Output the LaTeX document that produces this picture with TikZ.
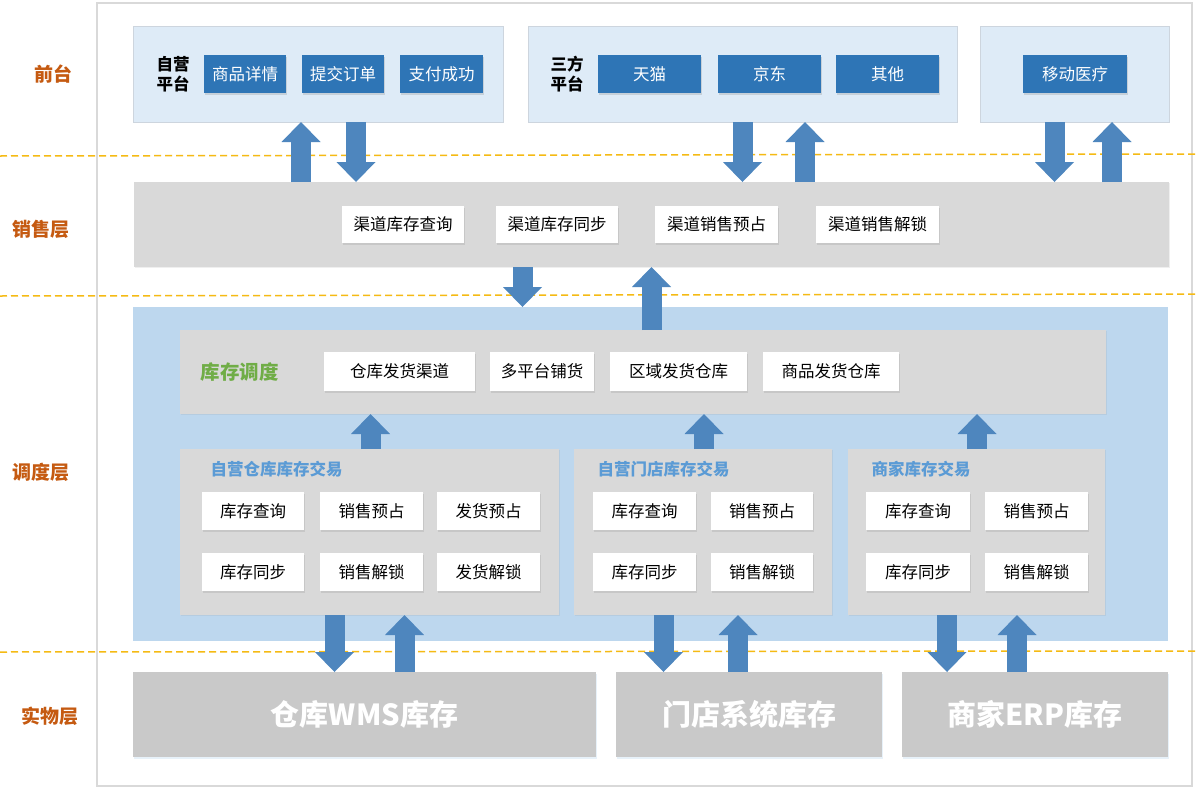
\documentclass[tikz,border=0pt]{standalone}
\usepackage{fontspec}
\setmainfont{Noto Sans CJK SC}
\usetikzlibrary{arrows.meta,shadows}
\definecolor{fblue}{HTML}{DEEBF7}
\definecolor{bordc}{HTML}{CDD5DE}
\definecolor{btnblue}{HTML}{2E75B6}
\definecolor{graybg}{HTML}{D9D9D9}
\definecolor{dispblue}{HTML}{BDD7EE}
\definecolor{physgray}{HTML}{C9C9C9}
\definecolor{arrowc}{HTML}{4E86BE}
\definecolor{lblorange}{HTML}{C55A11}
\definecolor{lblgreen}{HTML}{70AD47}
\definecolor{ttlblue}{HTML}{5B9BD5}
\definecolor{dashc}{HTML}{F5BA14}
\definecolor{framec}{HTML}{D9D9D9}
\newcommand{\bx}[7]{\node[inner sep=0pt, outer sep=0pt, minimum width={(#4-#2)*1pt}, minimum height={(#5-#3)*1pt}, #6] (#1) at ({(#2+#4)/2},{(#3+#5)/2}) {#7};}
\tikzset{
  cont/.style={fill=fblue, draw=bordc, line width=0.8pt, drop shadow={shadow xshift=1pt,shadow yshift=-1pt,opacity=.15,fill=gray}},
  btn/.style={fill=btnblue, text=white, font=\fontsize{16.5}{18}\selectfont, drop shadow={shadow xshift=1pt,shadow yshift=-1.5pt,opacity=.25,fill=gray}},
  wbox/.style={fill=white, text=black, font=\fontsize{16.5}{18}\selectfont, drop shadow={shadow xshift=1pt,shadow yshift=-1.5pt,opacity=.2,fill=gray}},
  grayp/.style={fill=graybg, drop shadow={shadow xshift=1pt,shadow yshift=-1pt,opacity=.12,fill=gray}},
  physbox/.style={fill=physgray, text=white, font=\fontsize{29}{32}\bfseries\selectfont, drop shadow={shadow xshift=0.5pt,shadow yshift=-2pt,opacity=.35,fill=dispblue}},
  lbl/.style={text=lblorange, font=\fontsize{19}{22}\bfseries\selectfont},
  plat/.style={text=black, align=center, font=\fontsize{16.5}{19.5}\bfseries\selectfont},
  ttl/.style={text=ttlblue, anchor=west, font=\fontsize{16.5}{18}\bfseries\selectfont},
  barr/.style={draw=arrowc, line width=20pt, -{Triangle[width=39pt,length=20pt,line width=0pt]}},
  dashline/.style={draw=dashc, line width=1.5pt, dash pattern=on 7pt off 4pt},
}
\begin{document}
\begin{tikzpicture}[x=1pt,y=-1pt]
\useasboundingbox (0,0) rectangle (1199,795);
\fill[white] (0,0) rectangle (1199,795);
% outer frame
\bx{frame}{97}{3}{1192}{786}{draw=framec, line width=1.2pt}{}
% dashed separators
\coordinate (dl1) at (0,156); \coordinate (dr1) at (1199,154);
\coordinate (dl2) at (0,296); \coordinate (dr2) at (1199,294);
\coordinate (dl3) at (0,652); \coordinate (dr3) at (1199,651);
\draw[dashline] (dl1) -- (dr1);
\draw[dashline] (dl2) -- (dr2);
\draw[dashline] (dl3) -- (dr3);
% layer labels
\node[lbl] (l1) at (53,74) {前台};
\node[lbl] (l2) at (41,229) {销售层};
\node[lbl] (l3) at (41,472) {调度层};
\node[lbl] (l4) at (50,716) {实物层};
% front
\bx{zy}{133}{26}{503}{122}{cont}{}
\node[plat] (zyl) at (173,74) {自营\\平台};
\bx{b1}{204}{55}{286}{93}{btn}{商品详情}
\bx{b2}{302}{55}{384}{93}{btn}{提交订单}
\bx{b3}{400}{55}{483}{93}{btn}{支付成功}
\bx{sf}{528}{26}{957}{122}{cont}{}
\node[plat] (sfl) at (567,74) {三方\\平台};
\bx{b4}{598}{55}{701}{93}{btn}{天猫}
\bx{b5}{718}{55}{821}{93}{btn}{京东}
\bx{b6}{836}{55}{939}{93}{btn}{其他}
\bx{yd}{980}{26}{1169}{122}{cont}{}
\bx{b7}{1023}{55}{1127}{93}{btn}{移动医疗}
% sales
\bx{sales}{134}{182}{1169}{267}{grayp}{}
\bx{s1}{342}{206}{464}{243}{wbox}{渠道库存查询}
\bx{s2}{496}{206}{618}{243}{wbox}{渠道库存同步}
\bx{s3}{655}{206}{778}{243}{wbox}{渠道销售预占}
\bx{s4}{816}{206}{939}{243}{wbox}{渠道销售解锁}
% dispatch
\bx{disp}{133}{307}{1168}{641}{fill=dispblue}{}
\bx{dd}{180}{330}{1106}{414}{grayp}{}
\node[text=lblgreen, font=\fontsize{19.5}{22}\bfseries\selectfont] (ddl) at (239.5,372) {库存调度};
\bx{d1}{324}{352}{475}{391}{wbox}{仓库发货渠道}
\bx{d2}{490}{352}{594}{391}{wbox}{多平台铺货}
\bx{d3}{610}{352}{747}{391}{wbox}{区域发货仓库}
\bx{d4}{763}{352}{899}{391}{wbox}{商品发货仓库}
% sub boxes
\bx{wa}{180}{449}{559}{615}{grayp}{}
\node[ttl] (wat) at (207,469) {自营仓库库存交易};
\bx{wa1}{202}{492}{304}{530}{wbox}{库存查询}
\bx{wa2}{320}{492}{423}{530}{wbox}{销售预占}
\bx{wa3}{437}{492}{540}{530}{wbox}{发货预占}
\bx{wa4}{202}{553}{304}{591}{wbox}{库存同步}
\bx{wa5}{320}{553}{423}{591}{wbox}{销售解锁}
\bx{wa6}{437}{553}{540}{591}{wbox}{发货解锁}
\bx{st}{574}{449}{832}{615}{grayp}{}
\node[ttl] (stt) at (594,469) {自营门店库存交易};
\bx{st1}{593}{492}{696}{530}{wbox}{库存查询}
\bx{st2}{711}{492}{813}{530}{wbox}{销售预占}
\bx{st3}{593}{553}{696}{591}{wbox}{库存同步}
\bx{st4}{711}{553}{813}{591}{wbox}{销售解锁}
\bx{mc}{848}{449}{1105}{615}{grayp}{}
\node[ttl] (mct) at (868,469) {商家库存交易};
\bx{mc1}{866}{492}{970}{530}{wbox}{库存查询}
\bx{mc2}{985}{492}{1088}{530}{wbox}{销售预占}
\bx{mc3}{866}{553}{970}{591}{wbox}{库存同步}
\bx{mc4}{985}{553}{1088}{591}{wbox}{销售解锁}
% physical
\bx{p1}{133}{672}{596}{757}{physbox}{仓库WMS库存}
\bx{p2}{616}{672}{882}{757}{physbox}{门店系统库存}
\bx{p3}{902}{672}{1168}{757}{physbox}{商家ERP库存}
% arrow x positions
\foreach \n/\x in {a1/301,a2/356,a3/742.5,a4/805,a5/1054.5,a6/1112,a7/522.5,a8/651.5,a9/370.5,a10/704,a11/977,a12/334.5,a13/404.5,a14/663.5,a15/738,a16/947,a17/1017}
  \coordinate (\n) at (\x,0);
% front <-> sales
\draw[barr] (sales.north -| a1) -- (zy.south -| a1);
\draw[barr] (zy.south -| a2) -- (sales.north -| a2);
\draw[barr] (sf.south -| a3) -- (sales.north -| a3);
\draw[barr] (sales.north -| a4) -- (sf.south -| a4);
\draw[barr] (yd.south -| a5) -- (sales.north -| a5);
\draw[barr] (sales.north -| a6) -- (yd.south -| a6);
% sales <-> dispatch
\draw[barr] (sales.south -| a7) -- (disp.north -| a7);
\draw[barr] (dd.north -| a8) -- (sales.south -| a8);
% sub -> dd
\draw[barr] (wa.north -| a9) -- (dd.south -| a9);
\draw[barr] (st.north -| a10) -- (dd.south -| a10);
\draw[barr] (mc.north -| a11) -- (dd.south -| a11);
% sub <-> physical
\draw[barr] (wa.south -| a12) -- (p1.north -| a12);
\draw[barr] (p1.north -| a13) -- (wa.south -| a13);
\draw[barr] (st.south -| a14) -- (p2.north -| a14);
\draw[barr] (p2.north -| a15) -- (st.south -| a15);
\draw[barr] (mc.south -| a16) -- (p3.north -| a16);
\draw[barr] (p3.north -| a17) -- (mc.south -| a17);
\end{tikzpicture}
\end{document}
